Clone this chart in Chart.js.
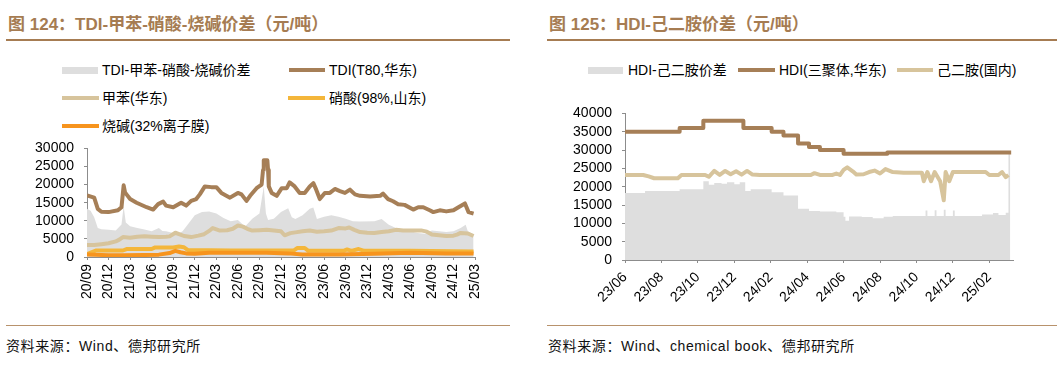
<!DOCTYPE html>
<html>
<head>
<meta charset="utf-8">
<script src="https://cdn.jsdelivr.net/npm/chart.js"></script>
<style>
  body { margin: 0; background: #fff; }
  #page { position: relative; width: 1063px; height: 366px; overflow: hidden;
          font-family: "Liberation Sans", Arial, "Noto Sans CJK SC", sans-serif; color: #000; }
  .title { position: absolute; top: 10px; font-size: 17px; font-weight: bold; color: #a67c52; white-space: nowrap; }
  .rule { position: absolute; height: 2px; background: #a67c52; }
  .rule.thin { height: 1px; background: #b8926c; }
  .src { position: absolute; top: 335px; font-size: 14px; letter-spacing: 0.6px; white-space: nowrap; color: #111; }
  .lg { position: absolute; font-size: 14px; white-space: nowrap; line-height: 16px; }
  .sw { position: absolute; }
  canvas { position: absolute; }
</style>
</head>
<body>
<div id="page">
  <div class="title" style="left:8px">图 124：TDI-甲苯-硝酸-烧碱价差（元/吨）</div>
  <div class="rule" style="left:6px; top:39px; width:504px"></div>
  <div class="title" style="left:549px">图 125：HDI-己二胺价差（元/吨）</div>
  <div class="rule" style="left:547px; top:39px; width:510px"></div>

  <!-- left legend -->
  <div class="sw" style="left:62px; top:67px; width:36px; height:7px; background:#dedede"></div>
  <div class="lg" style="left:102px; top:62px">TDI-甲苯-硝酸-烧碱价差</div>
  <div class="sw" style="left:289px; top:68px; width:36px; height:4px; background:#a67f57"></div>
  <div class="lg" style="left:329px; top:62px">TDI(T80,华东)</div>
  <div class="sw" style="left:62px; top:96px; width:37px; height:4px; background:#d7c49c"></div>
  <div class="lg" style="left:102px; top:90px">甲苯(华东)</div>
  <div class="sw" style="left:288px; top:96px; width:37px; height:4px; background:#f4b63a"></div>
  <div class="lg" style="left:329px; top:90px">硝酸(98%,山东)</div>
  <div class="sw" style="left:62px; top:124px; width:37px; height:4px; background:#f7941d"></div>
  <div class="lg" style="left:102px; top:118px">烧碱(32%离子膜)</div>

  <!-- right legend -->
  <div class="sw" style="left:588px; top:67px; width:35px; height:7px; background:#dedede"></div>
  <div class="lg" style="left:628px; top:62px">HDI-己二胺价差</div>
  <div class="sw" style="left:738px; top:68px; width:37px; height:4px; background:#a67f57"></div>
  <div class="lg" style="left:779px; top:62px">HDI(三聚体,华东)</div>
  <div class="sw" style="left:897px; top:68px; width:36px; height:4px; background:#d7c49c"></div>
  <div class="lg" style="left:937px; top:62px">己二胺(国内)</div>

  <canvas id="c1" width="500" height="190" style="left:0px; top:130px"></canvas>
  <canvas id="c2" width="523" height="230" style="left:540px; top:95px"></canvas>

  <div class="rule thin" style="left:6px; top:325px; width:504px"></div>
  <div class="rule thin" style="left:547px; top:325px; width:510px"></div>
  <div class="src" style="left:6px">资料来源：Wind、德邦研究所</div>
  <div class="src" style="left:548px">资料来源：Wind、chemical book、德邦研究所</div>
</div>
<script>
// x = months since 2020/09 for the left chart, since 2023/06 for the right one
var leftTicks = ['20/09','20/12','21/03','21/06','21/09','21/12','22/03','22/06','22/09','22/12',
                 '23/03','23/06','23/09','23/12','24/03','24/06','24/09','24/12','25/03'];
var rightTicks = ['23/06','23/08','23/10','23/12','24/02','24/04','24/06','24/08','24/10','24/12','25/02'];

var tdiSpread = [[0,13300],[0.5,12800],[1,11000],[1.5,8000],[2,7700],[3,7500],[4,7300],[4.8,9000],[5.1,14000],[5.4,9500],
  [6,8500],[7,8000],[8,7600],[9,7100],[10,8000],[10.5,7200],[11,7100],[12,6600],[12.7,6400],[13.3,7100],[14,8900],
  [15,11500],[16,12400],[17,12600],[18,12000],[19,10800],[20,9900],[21,10200],[22,8400],[23,10600],[24,12000],
  [24.6,19500],[24.9,12000],[25.2,10200],[26,10600],[27,12400],[28,13500],[28.5,11000],[29,10500],[30,11500],
  [31,13300],[31.5,13700],[32,10500],[33,11100],[34,11500],[35,11100],[36,10600],[37,9900],[38,9800],[40,9900],
  [41,10500],[42,8900],[43,8000],[44,7500],[45,7100],[46,6650],[47,6400],[48,7300],[49,7100],[50,6900],[51,7100],
  [52,8000],[52.7,8900],[53,7100],[53.8,6200]];
var tdi = [[0,17000],[1,16400],[1.5,13300],[2,12500],[3,12400],[4.3,12900],[4.8,13750],[5.1,19800],[5.3,17800],
  [5.5,17300],[6,16000],[6.9,15000],[8.3,13750],[9.2,13100],[9.9,14600],[10.6,15300],[11,14200],[12,13750],
  [13.1,15000],[13.8,14200],[14.5,15500],[15.2,16000],[15.7,17300],[16.4,19500],[17.3,19300],[18,19300],
  [18.7,17700],[19.9,16400],[21,17700],[21.5,17300],[22.2,15500],[22.7,16900],[23.6,19000],[24.3,20000],
  [24.5,24000],[24.6,26700],[25.1,26700],[25.2,24000],[25.3,19500],[25.7,17700],[26.4,16900],[27.1,19000],
  [27.8,19000],[28.2,20600],[28.9,19500],[29.6,17700],[30.3,17700],[31,19500],[31.5,20400],[31.9,18600],
  [32.4,16000],[33.1,17700],[33.8,17700],[34.5,18800],[35.2,18200],[35.9,17700],[36.6,18600],[37.3,17300],
  [38,16900],[39.4,16700],[40.8,16900],[41.2,17500],[41.9,16000],[42.6,15400],[43.3,14600],[44.2,14400],
  [45.4,13100],[46.1,13750],[46.8,13750],[47.7,12900],[48.2,12400],[49.1,12900],[50,12600],[51,12900],
  [51.7,13750],[52.6,14800],[53.1,12400],[53.8,12000]];
var toluene = [[0,3300],[1,3300],[2,3550],[3,3800],[4,4300],[4.5,4800],[5,5500],[6,5300],[7,5600],[8,5700],
  [9,5600],[10,5500],[11,5600],[11.5,5700],[12.3,6700],[13,6200],[13.5,5800],[14.5,5500],[15.5,5900],[16.3,6300],
  [17,7200],[17.5,8000],[18.5,7300],[19.5,7400],[20.3,7800],[21,8700],[21.7,8400],[22.3,7800],[23,7300],[24,7400],
  [25,7500],[26,7300],[27,7100],[27.5,6000],[28.3,6600],[29,6800],[30,7100],[31,7300],[32,7000],[33,7100],
  [34,7300],[35,8000],[36,7900],[36.5,8150],[37.2,7500],[38,6900],[39,6700],[40,6650],[41,6900],[42,7100],
  [43,7500],[44,7300],[45,7350],[46.5,7350],[47.3,7000],[48,6200],[49,6000],[50,5800],[51,5900],[51.5,6200],
  [52,6650],[53,6500],[53.8,5800]];
var nitric = [[0,800],[0.6,1300],[1.3,1800],[5,1800],[5.5,2200],[9,2200],[9.5,2650],[12,2650],[12.8,2900],
  [13.5,2700],[14,1950],[20,1800],[28.8,1800],[29.3,2500],[30.3,2500],[30.8,1700],[35.7,1700],[36.2,2100],
  [36.8,1700],[37.8,2200],[38.6,1700],[45,1700],[53.8,1500]];
var caustic = [[0,700],[3,500],[5,450],[8,550],[10,650],[11.5,1100],[12.3,1700],[13,1300],[13.8,1000],[15,900],
  [17,1150],[20,1150],[25,1150],[28,1000],[30,700],[35,700],[40,900],[45,1150],[50,1000],[53.8,1000]];

var hdiSpread = [[0,18300],[1.1,18800],[3.0,19300],[4.3,21500],[4.6,20500],[4.9,21000],[5.3,20800],[5.6,21200],
  [6.0,20700],[6.3,21200],[6.6,18800],[6.9,19300],[8.05,18500],[8.7,17600],[9.5,14000],[10.1,13400],[10.7,13200],
  [11.6,13000],[12.0,11800],[12.1,10700],[12.3,11900],[13.0,11700],[13.6,11400],[14.2,11800],[14.7,12000],
  [16.5,13500],[16.6,12000],[17.0,13600],[17.1,12000],[17.5,13700],[17.6,12000],[18.0,13500],[18.1,12000],
  [19.6,12400],[20.2,12800],[20.5,12300],[20.9,12900],[21.05,29000],[21.15,29000]];
var hdi = [[0,35000],[3.0,36000],[4.3,38000],[6.5,36000],[8.05,35000],[8.7,34000],[9.5,31800],[10.1,30800],
  [10.7,30000],[12.0,29000],[14.4,29300],[21.2,29300]];
var hmda = [[0,23200],[1.0,23200],[1.3,22800],[1.6,22300],[2.9,22300],[3.1,23200],[4.4,23200],[4.6,22700],
  [4.9,24300],[5.2,23200],[5.5,24300],[5.8,23400],[6.1,24200],[6.4,23300],[6.7,24300],[7.0,23300],[7.4,23200],
  [10.2,23200],[10.4,23700],[10.7,23200],[11.4,23200],[11.6,23600],[11.8,23200],[12.0,24600],[12.2,25300],
  [12.5,24200],[12.7,23300],[13.1,23400],[13.4,24000],[13.7,24400],[14.0,23600],[14.3,24800],[14.7,24000],
  [15.3,23800],[16.3,23800],[16.4,21500],[16.6,24000],[16.8,21500],[17.0,24000],[17.3,21500],[17.5,16300],
  [17.6,24000],[17.8,21500],[18.0,24000],[19.8,24000],[20.0,23200],[20.5,23200],[20.7,24000],[20.9,22600],
  [21.05,23200]];

var FONT = '"Liberation Sans", Arial, "Noto Sans CJK SC", sans-serif';
Chart.defaults.font.family = FONT;
Chart.defaults.font.size = 14;
Chart.defaults.color = '#000';

function pts(arr) {
  return arr.map(function(p){ return {x: p[0], y: p[1]}; });
}
function lineSet(label, arr, color, order, stepped) {
  return { label: label, data: pts(arr), borderColor: color, borderWidth: 4, pointRadius: 0,
           fill: false, order: order, stepped: stepped || false, borderJoinStyle: 'round' };
}
function areaSet(label, arr, order, stepped) {
  return { label: label, data: pts(arr), borderColor: 'rgba(0,0,0,0)', borderWidth: 1, pointRadius: 0,
           backgroundColor: '#dedede', fill: 'origin', order: order, stepped: stepped || false };
}
function axisGrid() {
  return { drawOnChartArea: false, drawTicks: true, tickLength: 3, color: '#8c8c8c' };
}
function yTicks() {
  return { stepSize: 5000, padding: 10, autoSkip: false, callback: function(v){ return String(v); } };
}

new Chart(document.getElementById('c1'), {
  type: 'line',
  data: { datasets: [
    areaSet('TDI-甲苯-硝酸-烧碱价差', tdiSpread, 5),
    lineSet('TDI(T80,华东)', tdi, '#a67f57', 4),
    lineSet('甲苯(华东)', toluene, '#d7c49c', 3),
    lineSet('硝酸(98%,山东)', nitric, '#f4b63a', 2),
    lineSet('烧碱(32%离子膜)', caustic, '#f7941d', 1)
  ]},
  options: {
    responsive: false, animation: false, devicePixelRatio: 1,
    layout: { padding: { left: 0, top: 14, right: 25, bottom: 0 } },
    plugins: { legend: { display: false }, tooltip: { enabled: false } },
    scales: {
      x: { type: 'linear', min: 0, max: 54,
           grid: axisGrid(), border: { color: '#8c8c8c' },
           ticks: { stepSize: 3, minRotation: 90, maxRotation: 90, padding: 4, includeBounds: false, autoSkip: false,
                    callback: function(v){ return v % 3 === 0 ? leftTicks[v / 3] : ''; } },
           afterFit: function(s){ s.height = 63; } },
      y: { min: 0, max: 30000,
           grid: axisGrid(), border: { color: '#8c8c8c' },
           ticks: yTicks(),
           afterFit: function(s){ s.width = 87; } }
    }
  }
});

new Chart(document.getElementById('c2'), {
  type: 'line',
  data: { datasets: [
    areaSet('HDI-己二胺价差', hdiSpread, 3, true),
    lineSet('HDI(三聚体,华东)', hdi, '#a67f57', 2, true),
    lineSet('己二胺(国内)', hmda, '#d7c49c', 1)
  ]},
  options: {
    responsive: false, animation: false, devicePixelRatio: 1,
    layout: { padding: { left: 0, top: 10, right: 50, bottom: 0 } },
    plugins: { legend: { display: false }, tooltip: { enabled: false } },
    scales: {
      x: { type: 'linear', min: 0, max: 21.3,
           grid: axisGrid(), border: { color: '#8c8c8c' },
           ticks: { stepSize: 2, minRotation: 45, maxRotation: 45, padding: 6, includeBounds: false, autoSkip: false,
                    callback: function(v){ return v % 2 === 0 ? rightTicks[v / 2] : ''; } },
           afterFit: function(s){ s.height = 65; } },
      y: { min: 0, max: 40000,
           grid: axisGrid(), border: { color: '#8c8c8c' },
           ticks: yTicks(),
           afterFit: function(s){ s.width = 85; } }
    }
  }
});
</script>
</body>
</html>
